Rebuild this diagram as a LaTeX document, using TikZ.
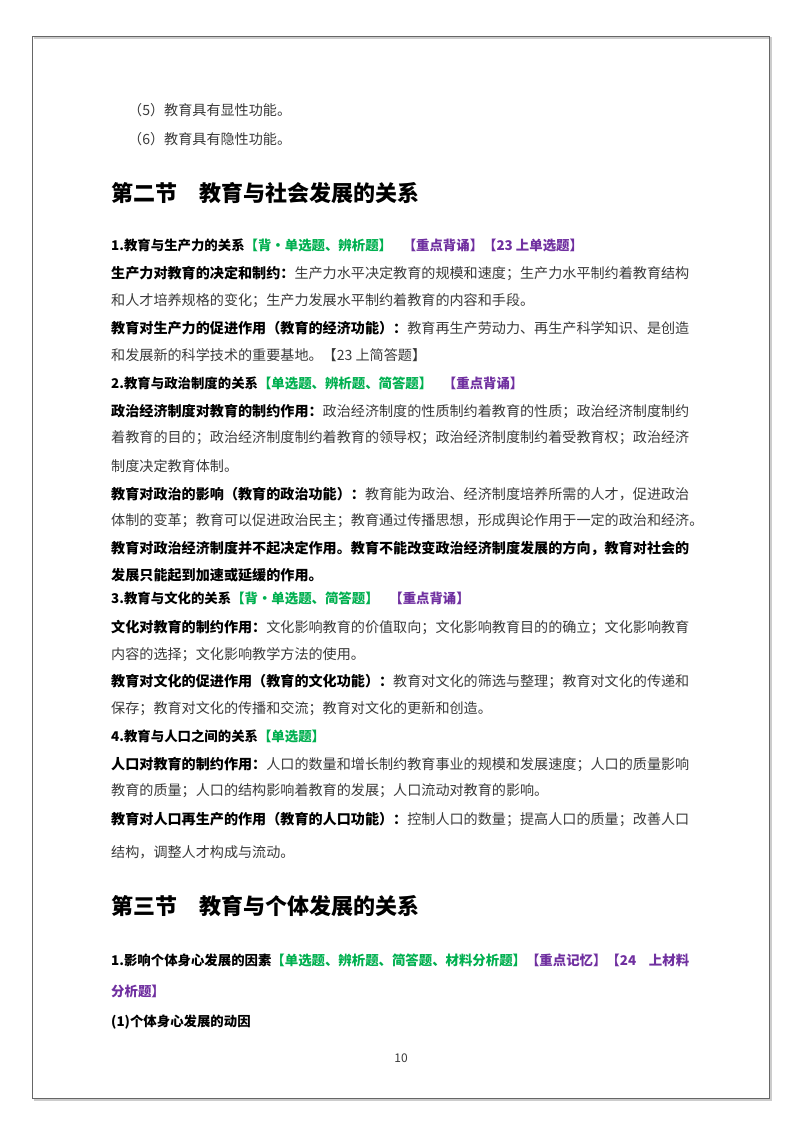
\documentclass[tikz,border=0pt]{standalone}
\usepackage{fontspec}
\setmainfont{Noto Sans CJK SC}
\XeTeXlinebreaklocale "zh"
\XeTeXlinebreakskip=0pt plus 3pt minus 0.3pt
\definecolor{gtxt}{HTML}{3A3A3A}
\definecolor{grn}{HTML}{00B050}
\definecolor{pur}{HTML}{7030A0}
\newcommand{\fl}[1]{\makebox[578pt][s]{#1}}
\newcommand{\bb}[1]{{\bfseries\color{black}#1}}
\newcommand{\gr}[1]{{\bfseries\color{grn}#1}}
\newcommand{\pu}[1]{{\bfseries\color{pur}#1}}
\begin{document}
\begin{tikzpicture}[x=1pt,y=-1pt,
  ln/.style={anchor=west,inner sep=0pt,text=gtxt,font=\fontsize{14.1}{16}\selectfont},
  hd/.style={anchor=west,inner sep=0pt,font=\fontsize{13.4}{16}\selectfont\bfseries},
  sec/.style={anchor=west,inner sep=0pt,font=\fontsize{22}{26}\selectfont\bfseries}]
\useasboundingbox (0,0) rectangle (800,1132);
\fill[white] (0,0) rectangle (800,1132);
\draw[gray!40,line width=1.5pt] (34,38) -- (771,38) -- (771,1100) -- (34,1100);
\draw[gray!80!black,line width=0.8pt] (32,36) rectangle (769,1098);
\node[ln] (a1) at (128,110) {（5）教育具有显性功能。};
\node[ln] (a2) at (128,139) {（6）教育具有隐性功能。};
\node[sec] (s2) at (111,193) {第二节\hspace{1em}教育与社会发展的关系};
\node[hd] (h1) at (111,245) {1.教育与生产力的关系\gr{【背・单选题、辨析题】}\hspace{0.8em}\pu{【重点背诵】【23 上单选题】}};
\node[ln] (l1) at (111,273) {\fl{\bb{生产力对教育的决定和制约：}生产力水平决定教育的规模和速度；生产力水平制约着教育结构}};
\node[ln] (l2) at (111,301) {和人才培养规格的变化；生产力发展水平制约着教育的内容和手段。};
\node[ln] (l3) at (111,328) {\fl{\bb{教育对生产力的促进作用（教育的经济功能）：}教育再生产劳动力、再生产科学知识、是创造}};
\node[ln] (l4) at (111,355) {和发展新的科学技术的重要基地。【23 上简答题】};
\node[hd] (h2) at (111,383) {2.教育与政治制度的关系\gr{【单选题、辨析题、简答题】}\hspace{0.8em}\pu{【重点背诵】}};
\node[ln] (l5) at (111,411) {\fl{\bb{政治经济制度对教育的制约作用：}政治经济制度的性质制约着教育的性质；政治经济制度制约}};
\node[ln] (l6) at (111,438) {\fl{着教育的目的；政治经济制度制约着教育的领导权；政治经济制度制约着受教育权；政治经济}};
\node[ln] (l7) at (111,466) {制度决定教育体制。};
\node[ln] (l8) at (111,494) {\fl{\bb{教育对政治的影响（教育的政治功能）：}教育能为政治、经济制度培养所需的人才，促进政治}};
\node[ln] (l9) at (111,521) {\fl{体制的变革；教育可以促进政治民主；教育通过传播思想，形成舆论作用于一定的政治和经济。}};
\node[ln] (l10) at (111,548) {\fl{\bb{教育对政治经济制度并不起决定作用。教育不能改变政治经济制度发展的方向，教育对社会的}}};
\node[ln] (l11) at (111,575) {\bb{发展只能起到加速或延缓的作用。}};
\node[hd] (h3) at (111,598) {3.教育与文化的关系\gr{【背・单选题、简答题】}\hspace{0.8em}\pu{【重点背诵】}};
\node[ln] (l12) at (111,627) {\fl{\bb{文化对教育的制约作用：}文化影响教育的价值取向；文化影响教育目的的确立；文化影响教育}};
\node[ln] (l13) at (111,655) {内容的选择；文化影响教学方法的使用。};
\node[ln] (l14) at (111,681) {\fl{\bb{教育对文化的促进作用（教育的文化功能）：}教育对文化的筛选与整理；教育对文化的传递和}};
\node[ln] (l15) at (111,709) {保存；教育对文化的传播和交流；教育对文化的更新和创造。};
\node[hd] (h4) at (111,736) {4.教育与人口之间的关系\gr{【单选题】}};
\node[ln] (l16) at (111,764) {\fl{\bb{人口对教育的制约作用：}人口的数量和增长制约教育事业的规模和发展速度；人口的质量影响}};
\node[ln] (l17) at (111,791) {教育的质量；人口的结构影响着教育的发展；人口流动对教育的影响。};
\node[ln] (l18) at (111,819) {\fl{\bb{教育对人口再生产的作用（教育的人口功能）：}控制人口的数量；提高人口的质量；改善人口}};
\node[ln] (l19) at (111,852) {结构，调整人才构成与流动。};
\node[sec] (s3) at (111,906) {第三节\hspace{1em}教育与个体发展的关系};
\node[hd] (h5) at (111,960) {\makebox[578pt][s]{1.影响个体身心发展的因素\gr{【单选题、辨析题、简答题、材料分析题】}\pu{【重点记忆】【24 上材料}}};
\node[hd] (h6) at (111,991) {\pu{分析题】}};
\node[hd] (h7) at (111,1022) {(1)个体身心发展的动因};
\node[inner sep=0pt,text=gtxt,font=\fontsize{12}{14}\selectfont] (pg) at (401,1058) {10};
\end{tikzpicture}
\end{document}
